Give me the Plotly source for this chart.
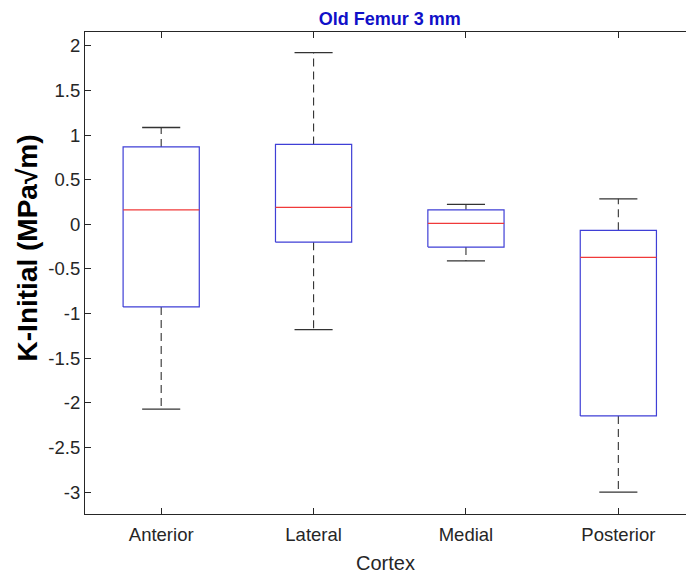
import plotly.graph_objects as go

# Box-plot statistics per cortex region (K-Initial, MPa·√m)
cortex = ["Anterior", "Lateral", "Medial", "Posterior"]
lower_whisker = [-2.07, -1.18, -0.41, -3.00]
q1 = [-0.925, -0.20, -0.254, -2.146]
median = [0.163, 0.19, 0.011, -0.37]
q3 = [0.868, 0.895, 0.163, -0.067]
upper_whisker = [1.085, 1.925, 0.224, 0.286]

y_ticks = [2, 1.5, 1, 0.5, 0, -0.5, -1, -1.5, -2, -2.5, -3]
y_tick_text = ["2", "1.5", "1", "0.5", "0", "-0.5", "-1", "-1.5", "-2", "-2.5", "-3"]

BOX_HALF = 0.25
CAP_HALF = 0.125
BOX_COLOR = "#3f3fd6"
MED_COLOR = "#f03a3a"
WHISK_COLOR = "#333333"
FONT = "Liberation Sans, Arial, sans-serif"

fig = go.Figure()

for i, name in enumerate(cortex):
    x = i + 1
    # dashed whiskers from box edges to the caps
    fig.add_trace(go.Scatter(
        x=[x, x, None, x, x],
        y=[q3[i], upper_whisker[i], None, q1[i], lower_whisker[i]],
        mode="lines", line=dict(color=WHISK_COLOR, width=1.1, dash="8px,5px"),
        hoverinfo="skip", showlegend=False))
    # whisker caps
    fig.add_trace(go.Scatter(
        x=[x - CAP_HALF, x + CAP_HALF, None, x - CAP_HALF, x + CAP_HALF],
        y=[upper_whisker[i], upper_whisker[i], None, lower_whisker[i], lower_whisker[i]],
        mode="lines", line=dict(color=WHISK_COLOR, width=1.3),
        hoverinfo="skip", showlegend=False))
    # interquartile box
    fig.add_trace(go.Scatter(
        x=[x - BOX_HALF, x + BOX_HALF, x + BOX_HALF, x - BOX_HALF, x - BOX_HALF],
        y=[q1[i], q1[i], q3[i], q3[i], q1[i]],
        mode="lines", line=dict(color=BOX_COLOR, width=1.2),
        name=name, showlegend=False))
    # median
    fig.add_trace(go.Scatter(
        x=[x - BOX_HALF, x + BOX_HALF],
        y=[median[i], median[i]],
        mode="lines", line=dict(color=MED_COLOR, width=1.2),
        hoverinfo="skip", showlegend=False))

fig.update_layout(
    width=686, height=579,
    margin=dict(l=85, r=0, t=32, b=65),
    paper_bgcolor="white", plot_bgcolor="white",
    font=dict(family=FONT, color="#262626"),
    title=dict(text="<b>Old Femur 3 mm</b>", x=0.507, xref="paper", xanchor="center",
               y=1 - 19 / 579, yref="container", yanchor="middle",
               font=dict(family=FONT, size=18, color="#1010c8")),
    xaxis=dict(
        range=[0.5, 4.444], tickmode="array", tickvals=[1, 2, 3, 4], ticktext=cortex,
        ticks="inside", ticklen=6, tickcolor="#262626", tickwidth=1,
        showline=True, linecolor="#262626", linewidth=1.2, mirror="ticks",
        showgrid=False, zeroline=False, ticklabelstandoff=4,
        tickfont=dict(size=18.5, color="#262626"),
        title=dict(text="Cortex", font=dict(size=20, color="#262626"), standoff=11)),
    yaxis=dict(
        range=[-3.245, 2.155], tickmode="array", tickvals=y_ticks, ticktext=y_tick_text,
        ticks="inside", ticklen=6, tickcolor="#262626", tickwidth=1,
        showline=True, linecolor="#262626", linewidth=1.2, mirror=False,
        showgrid=False, zeroline=False,
        tickfont=dict(size=18.5, color="#262626")),
    annotations=[dict(
        text="<b>K-Initial (MPa\u221am)</b>", textangle=-90,
        xref="paper", yref="paper", x=-0.0965, y=0.551,
        xanchor="center", yanchor="middle", showarrow=False,
        font=dict(family=FONT, size=28, color="black"))],
)

fig.write_html("out.html")
